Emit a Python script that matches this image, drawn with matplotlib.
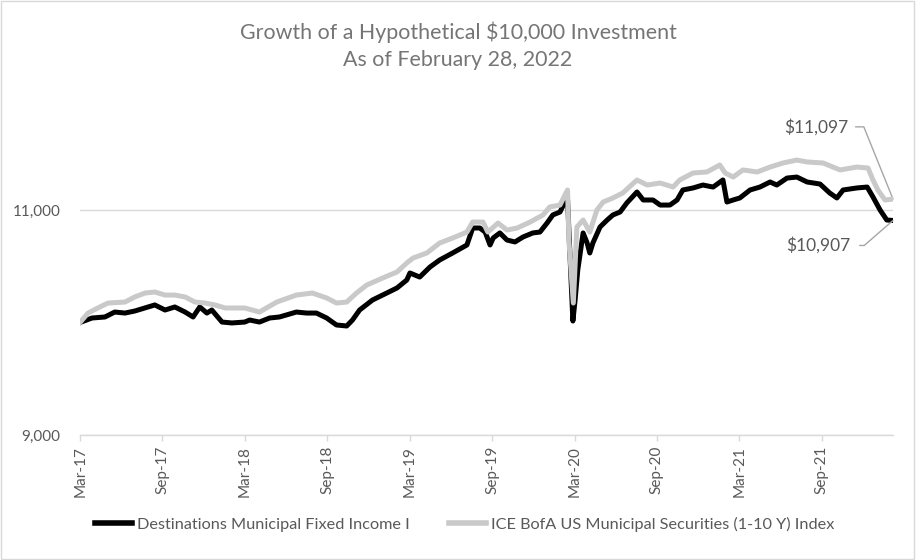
import matplotlib
matplotlib.use('Agg')
import matplotlib.pyplot as plt
import pandas as pd
from matplotlib.lines import Line2D
from matplotlib.patches import Rectangle

plt.rcParams['font.family'] = ['Lato', 'DejaVu Sans']

# growth of $10,000
fund_dates = [
    '2017-02-28', '2017-03-27', '2017-04-25', '2017-05-17', '2017-06-09', '2017-07-01',
    '2017-08-15', '2017-09-07', '2017-09-29', '2017-10-22', '2017-11-09', '2017-11-24',
    '2017-12-10', '2017-12-21', '2018-01-13', '2018-02-04', '2018-03-05', '2018-03-16',
    '2018-04-07', '2018-04-30', '2018-05-22', '2018-06-29', '2018-07-22', '2018-08-13',
    '2018-09-05', '2018-09-27', '2018-10-20', '2018-11-02', '2018-11-18', '2018-12-17',
    '2019-01-18', '2019-02-10', '2019-03-04', '2019-03-11', '2019-04-02', '2019-04-25',
    '2019-05-17', '2019-06-15', '2019-07-17', '2019-07-30', '2019-08-15', '2019-08-27',
    '2019-09-07', '2019-09-14', '2019-09-29', '2019-10-15', '2019-11-02', '2019-11-20',
    '2019-12-12', '2019-12-28', '2020-01-13', '2020-01-26', '2020-02-11', '2020-02-22',
    '2020-02-28', '2020-03-02', '2020-03-11', '2020-03-16', '2020-03-22', '2020-04-03',
    '2020-04-12', '2020-04-18', '2020-04-25', '2020-05-11', '2020-05-27', '2020-06-09',
    '2020-06-25', '2020-07-10', '2020-08-02', '2020-08-16', '2020-09-07', '2020-09-23',
    '2020-10-15', '2020-10-31', '2020-11-13', '2020-12-06', '2020-12-28', '2021-01-20',
    '2021-02-11', '2021-02-20', '2021-03-06', '2021-03-21', '2021-04-13', '2021-05-05',
    '2021-05-28', '2021-06-12', '2021-07-05', '2021-07-27', '2021-08-19', '2021-09-17',
    '2021-10-09', '2021-10-25', '2021-11-08', '2021-12-09', '2022-01-01', '2022-01-14',
    '2022-01-30', '2022-02-14', '2022-02-28']
fund_values = [
    10000, 10040, 10049, 10093, 10084, 10102,
    10156, 10111, 10138, 10093, 10049, 10138,
    10084, 10111, 10004, 9996, 10004, 10022,
    10004, 10040, 10049, 10093, 10084, 10084,
    10040, 9978, 9969, 10022, 10111, 10200,
    10262, 10307, 10378, 10440, 10404, 10493,
    10556, 10618, 10689, 10840, 10840, 10804,
    10689, 10751, 10796, 10733, 10716, 10760,
    10796, 10804, 10884, 10956, 10982, 11071,
    11098, 10822, 10013, 10200, 10467, 10796,
    10707, 10618, 10707, 10849, 10911, 10956,
    10982, 11062, 11160, 11089, 11089, 11044,
    11044, 11089, 11178, 11196, 11222, 11204,
    11267, 11071, 11089, 11107, 11178, 11204,
    11249, 11222, 11284, 11293, 11249, 11231,
    11151, 11107, 11178, 11196, 11204, 11116,
    11000, 10911, 10907]

index_dates = [
    '2017-02-28', '2017-03-18', '2017-04-09', '2017-05-02', '2017-06-09', '2017-07-01',
    '2017-07-24', '2017-08-15', '2017-09-07', '2017-09-29', '2017-10-22', '2017-11-13',
    '2017-12-06', '2017-12-28', '2018-01-20', '2018-03-05', '2018-04-07', '2018-05-16',
    '2018-06-29', '2018-08-04', '2018-09-05', '2018-09-27', '2018-10-20', '2018-11-11',
    '2018-12-04', '2019-01-09', '2019-02-10', '2019-03-04', '2019-03-18', '2019-04-18',
    '2019-05-17', '2019-06-15', '2019-07-17', '2019-07-30', '2019-08-22', '2019-09-02',
    '2019-09-25', '2019-10-15', '2019-11-07', '2019-12-06', '2020-01-04', '2020-01-19',
    '2020-02-11', '2020-02-28', '2020-03-02', '2020-03-12', '2020-03-20', '2020-04-03',
    '2020-04-18', '2020-05-04', '2020-05-18', '2020-06-09', '2020-07-01', '2020-08-02',
    '2020-08-25', '2020-09-23', '2020-10-22', '2020-11-06', '2020-12-06', '2021-01-06',
    '2021-02-04', '2021-02-16', '2021-03-06', '2021-03-28', '2021-04-29', '2021-05-28',
    '2021-06-26', '2021-07-27', '2021-08-19', '2021-09-24', '2021-11-01', '2021-12-09',
    '2022-01-03', '2022-01-14', '2022-01-25', '2022-02-10', '2022-02-28']
index_values = [
    10000, 10084, 10129, 10173, 10182, 10227,
    10262, 10271, 10244, 10244, 10227, 10182,
    10173, 10156, 10129, 10129, 10093, 10182,
    10244, 10262, 10218, 10173, 10182, 10262,
    10333, 10396, 10449, 10529, 10573, 10618,
    10707, 10751, 10804, 10893, 10893, 10804,
    10884, 10822, 10840, 10893, 10956, 11027,
    11044, 11178, 10733, 10173, 10849, 10911,
    10804, 11000, 11071, 11107, 11151, 11267,
    11222, 11240, 11204, 11267, 11329, 11338,
    11400, 11329, 11293, 11356, 11338, 11382,
    11418, 11444, 11427, 11418, 11356, 11382,
    11373, 11267, 11178, 11089, 11097]

# x labels sit on labelled points of a text axis, so they fall mid-month
tick_dates = ['2017-03-01', '2017-09-01', '2018-03-05', '2018-09-06', '2019-03-11',
              '2019-09-12', '2020-03-15', '2020-09-15', '2021-03-20', '2021-09-21']
tick_labels = ['Mar-17', 'Sep-17', 'Mar-18', 'Sep-18', 'Mar-19',
               'Sep-19', 'Mar-20', 'Sep-20', 'Mar-21', 'Sep-21']

fund_name = 'Destinations Municipal Fixed Income I'
index_name = 'ICE BofA US Municipal Securities (1-10 Y) Index'

fund = pd.DataFrame({'date': pd.to_datetime(fund_dates), 'value': fund_values})
index = pd.DataFrame({'date': pd.to_datetime(index_dates), 'value': index_values})

text_grey = '#595959'
line_grey = '#c9c9c9'
axis_grey = '#d9d9d9'

fig = plt.figure(figsize=(9.16, 5.6), dpi=100)
fig.patches.append(Rectangle((0.001, 0.001), 0.997, 0.997, transform=fig.transFigure,
                             fill=False, edgecolor=axis_grey, linewidth=1))
ax = fig.add_axes([80 / 916, 1 - 435 / 560, 813 / 916, 337.5 / 560])

ax.plot(fund['date'], fund['value'], color='black', linewidth=3.6,
        solid_joinstyle='round', zorder=3)
ax.plot(index['date'], index['value'], color=line_grey, linewidth=3.6,
        solid_joinstyle='round', zorder=4)

ax.set_xlim(pd.Timestamp('2017-02-28'), pd.Timestamp('2022-02-28'))
ax.set_ylim(9000, 12000)
ax.set_yticks([9000, 11000])
ax.yaxis.set_major_formatter(matplotlib.ticker.FuncFormatter(lambda v, p: f'{v:,.0f}'))
ax.set_xticks(pd.to_datetime(tick_dates))
ax.set_xticklabels(tick_labels, rotation=90)

ax.grid(axis='y', color=axis_grey, linewidth=1)
ax.set_axisbelow(True)
for side in ['top', 'right', 'left']:
    ax.spines[side].set_visible(False)
ax.spines['bottom'].set_color(axis_grey)
ax.spines['bottom'].set_linewidth(1)
ax.tick_params(axis='y', length=0, pad=14, labelsize=11, labelcolor=text_grey)
ax.tick_params(axis='x', length=4, width=1, color=axis_grey, pad=4,
               labelsize=11, labelcolor=text_grey)

fig.text(0.5, 0.943, 'Growth of a Hypothetical $10,000 Investment', ha='center',
         va='center', fontsize=15.4, color='#757575')
fig.text(0.5, 0.893, 'As of February 28, 2022', ha='center', va='center',
         fontsize=15.4, color='#757575')

# end value call-outs
end_fund = fund.iloc[-1]
end_index = index.iloc[-1]
ax.annotate(f'${end_index["value"]:,.0f}', xy=(end_index['date'], end_index['value']),
            xytext=(-32, 52), textcoords='offset points', ha='right', va='center',
            fontsize=12.5, color=text_grey,
            arrowprops=dict(arrowstyle='-', color='#a6a6a6', lw=1, shrinkA=3, shrinkB=0,
                            relpos=(1, 0.5),
                            connectionstyle='angle,angleA=0,angleB=112,rad=0'))
ax.annotate(f'${end_fund["value"]:,.0f}', xy=(end_fund['date'], end_fund['value']),
            xytext=(-31, -18), textcoords='offset points', ha='right', va='center',
            fontsize=12.5, color=text_grey,
            arrowprops=dict(arrowstyle='-', color='#a6a6a6', lw=1, shrinkA=5, shrinkB=0,
                            relpos=(1, 0.5),
                            connectionstyle='angle,angleA=0,angleB=41,rad=0'))

handles = [Line2D([], [], color='black', linewidth=4),
           Line2D([], [], color=line_grey, linewidth=4)]
fig.legend(handles, [fund_name, index_name], loc='center', bbox_to_anchor=(0.507, 0.064),
           ncol=2, frameon=False, fontsize=11.7, handlelength=2.3, handletextpad=0.3,
           columnspacing=2.4, labelcolor=text_grey)

fig.savefig('out.png', dpi=100)
